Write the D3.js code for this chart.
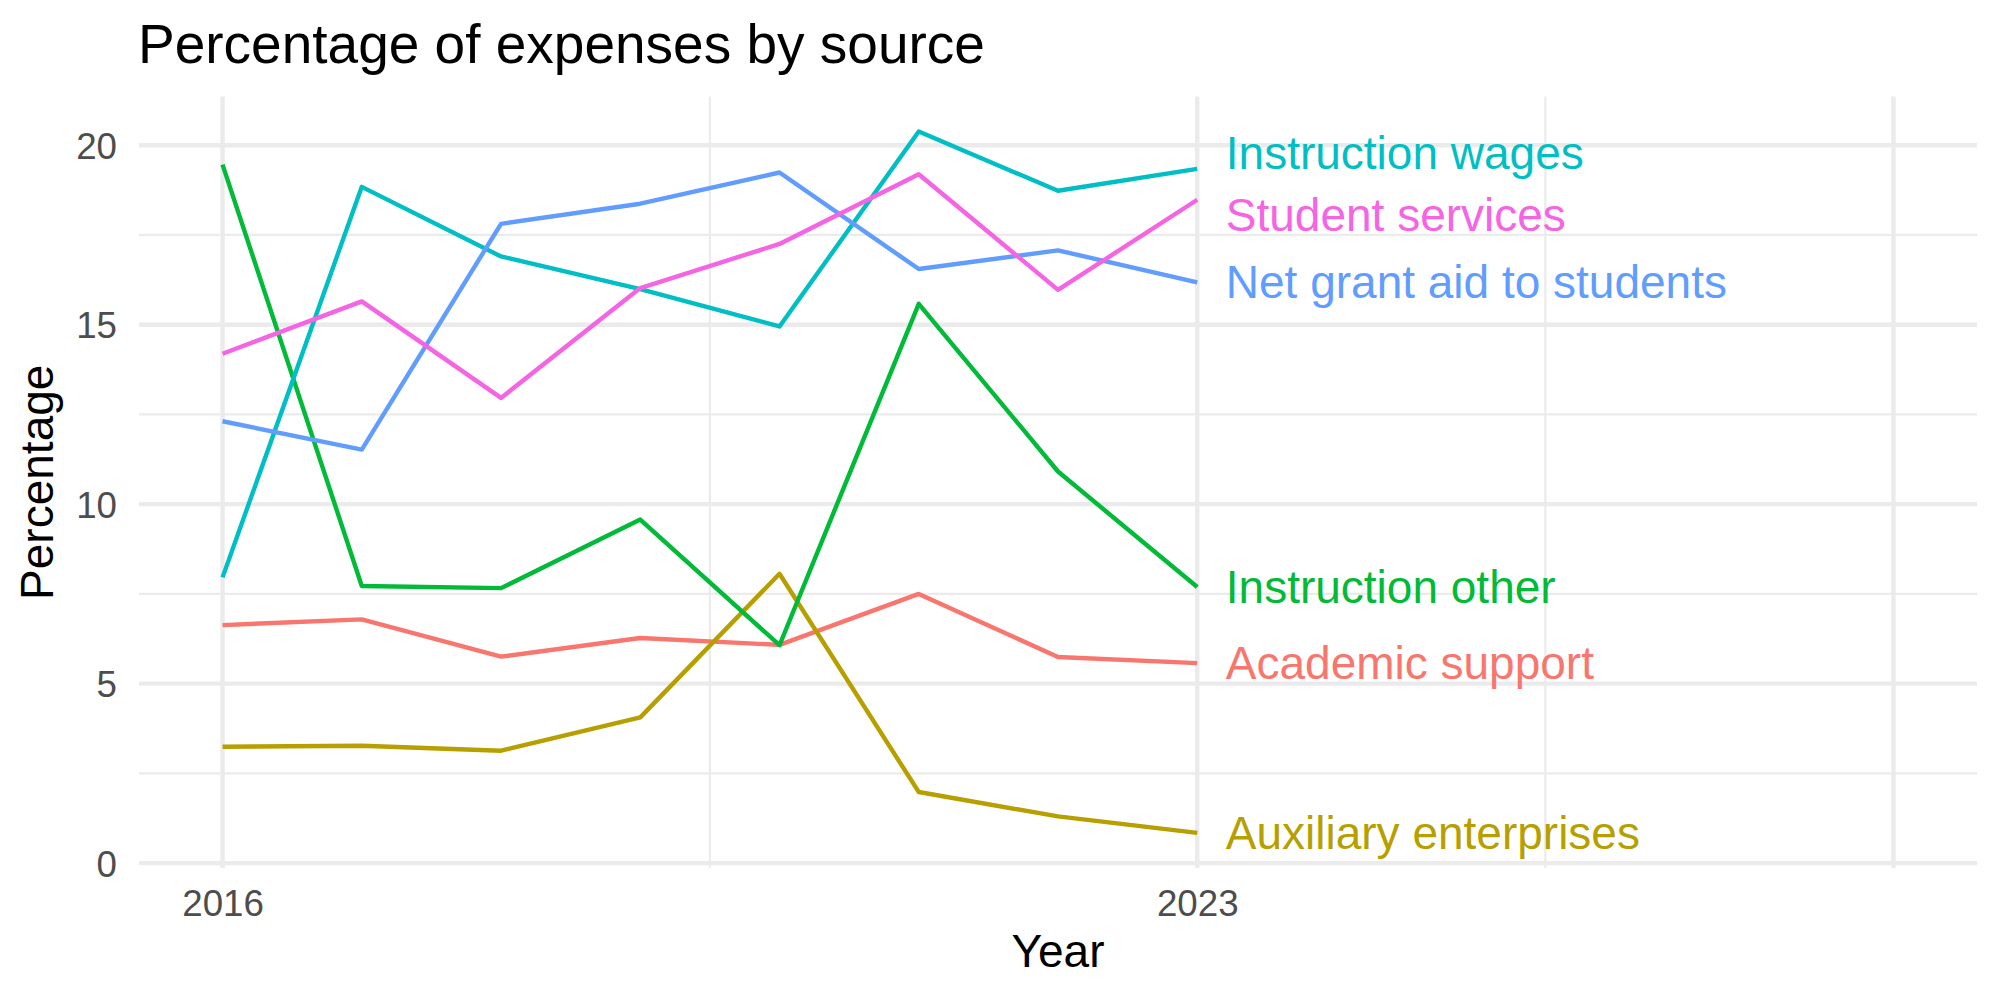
<!DOCTYPE html>
<html>
<head>
<meta charset="utf-8">
<script src="https://cdn.jsdelivr.net/npm/d3@7"></script>
<style>
  html, body { margin: 0; padding: 0; background: #fff; }
  svg text { font-family: "Liberation Sans", Arial, Helvetica, sans-serif; }
</style>
</head>
<body>
<svg id="chart" width="2000" height="1000"></svg>
<script>
// ---- Data ----
const years = [2016, 2017, 2018, 2019, 2020, 2021, 2022, 2023];
const seriesNames = ["Academic support", "Auxiliary enterprises", "Instruction other",
                     "Instruction wages", "Net grant aid to students", "Student services"];
const academicSupport      = [6.63, 6.79, 5.75, 6.27, 6.08, 7.50, 5.74, 5.57];
const auxiliaryEnterprises = [3.24, 3.27, 3.13, 4.06, 8.06, 1.98, 1.30, 0.84];
const instructionOther     = [19.46, 7.72, 7.66, 9.57, 6.07, 15.58, 10.91, 7.69];
const instructionWages     = [7.96, 18.84, 16.90, 15.99, 14.95, 20.38, 18.73, 19.34];
const netGrantAid          = [12.31, 11.52, 17.81, 18.37, 19.24, 16.55, 17.07, 16.18];
const studentServices      = [14.19, 15.65, 12.96, 16.02, 17.25, 19.19, 15.97, 18.48];
const seriesColors = ["#F8766D", "#B79F00", "#00BA38", "#00BFC4", "#619CFF", "#F564E3"];

const xBreaks = [2016, 2023, 2028];
const xTickLabels = ["2016", "2023", ""];
const xMinorBreaks = [2019.5, 2025.5];
const yBreaks = [0, 5, 10, 15, 20];
const yTickLabels = ["0", "5", "10", "15", "20"];
const yMinorBreaks = [2.5, 7.5, 12.5, 17.5];

const titleText = "Percentage of expenses by source";
const xTitle = "Year";
const yTitle = "Percentage";

// ---- Build table ----
const seriesValues = [academicSupport, auxiliaryEnterprises, instructionOther,
                      instructionWages, netGrantAid, studentServices];
const series = seriesNames.map((name, i) => ({
  name, color: seriesColors[i],
  values: years.map((y, j) => ({ year: y, value: seriesValues[i][j] }))
}));

// ---- Layout ----
const panel = { left: 139, right: 1977, top: 96.5, bottom: 868 };
const svg = d3.select("#chart");
svg.append("rect").attr("width", 2000).attr("height", 1000).attr("fill", "#fff");

const x = d3.scaleLinear().domain([2015.4, 2028.6]).range([panel.left, panel.right]);
const allVals = seriesValues.flat();
const [vmin, vmax] = d3.extent(allVals);
const pad = (vmax - vmin) * 0.05;
const y = d3.scaleLinear().domain([vmin - pad, vmax + pad]).range([panel.bottom, panel.top]);

const grid = svg.append("g");
// minor grid
grid.selectAll(".hmin").data(yMinorBreaks).join("line")
  .attr("x1", panel.left).attr("x2", panel.right)
  .attr("y1", d => y(d)).attr("y2", d => y(d))
  .attr("stroke", "#EBEBEB").attr("stroke-width", 2.2);
grid.selectAll(".vmin").data(xMinorBreaks).join("line")
  .attr("y1", panel.top).attr("y2", panel.bottom)
  .attr("x1", d => x(d)).attr("x2", d => x(d))
  .attr("stroke", "#EBEBEB").attr("stroke-width", 2.2);
// major grid
grid.selectAll(".hmaj").data(yBreaks).join("line")
  .attr("x1", panel.left).attr("x2", panel.right)
  .attr("y1", d => y(d)).attr("y2", d => y(d))
  .attr("stroke", "#EBEBEB").attr("stroke-width", 4.4);
grid.selectAll(".vmaj").data(xBreaks).join("line")
  .attr("y1", panel.top).attr("y2", panel.bottom)
  .attr("x1", d => x(d)).attr("x2", d => x(d))
  .attr("stroke", "#EBEBEB").attr("stroke-width", 4.4);

// axes (text only, ggplot minimal style)
const xAxis = d3.axisBottom(x).tickValues(xBreaks)
  .tickFormat((d, i) => xTickLabels[i]).tickSize(0).tickPadding(0);
const gx = svg.append("g").attr("transform", `translate(0,${panel.bottom})`).call(xAxis);
gx.select(".domain").remove();
gx.selectAll("text").attr("fill", "#4D4D4D").attr("font-size", 36.7)
  .attr("y", 48).attr("dy", null);

const yAxis = d3.axisLeft(y).tickValues(yBreaks)
  .tickFormat((d, i) => yTickLabels[i]).tickSize(0).tickPadding(0);
const gy = svg.append("g").attr("transform", `translate(${panel.left},0)`).call(yAxis);
gy.select(".domain").remove();
gy.selectAll("text").attr("fill", "#4D4D4D").attr("font-size", 36.7)
  .attr("x", -22).attr("dy", "0.36em");

// lines
const line = d3.line().x(d => x(d.year)).y(d => y(d.value));
svg.append("g").selectAll("path").data(series).join("path")
  .attr("d", d => line(d.values))
  .attr("fill", "none")
  .attr("stroke", d => d.color)
  .attr("stroke-width", 4.4)
  .attr("stroke-linejoin", "round")
  .attr("stroke-linecap", "butt");

// end labels with simple repel
const labelNudgeYears = 0.205;
const minGap = 62;
const labels = series.map(s => ({
  name: s.name, color: s.color,
  py: y(s.values[s.values.length - 1].value)
}));
for (let it = 0; it < 200; it++) {
  labels.sort((a, b) => a.py - b.py);
  for (let i = 0; i < labels.length - 1; i++) {
    const d = labels[i + 1].py - labels[i].py;
    if (d < minGap) {
      const shift = (minGap - d) / 2;
      labels[i].py -= shift;
      labels[i + 1].py += shift;
    }
  }
}
svg.append("g").selectAll("text").data(labels).join("text")
  .attr("x", x(years[years.length - 1] + labelNudgeYears))
  .attr("y", d => d.py)
  .attr("dy", "0.35em")
  .attr("fill", d => d.color)
  .attr("font-size", 46)
  .text(d => d.name);

// titles
svg.append("text").attr("x", 138).attr("y", 63)
  .attr("font-size", 55).attr("fill", "#000").text(titleText);
svg.append("text").attr("x", (panel.left + panel.right) / 2).attr("y", 967)
  .attr("text-anchor", "middle").attr("font-size", 46).attr("fill", "#000").text(xTitle);
svg.append("text")
  .attr("transform", `translate(53,${(panel.top + panel.bottom) / 2}) rotate(-90)`)
  .attr("text-anchor", "middle").attr("font-size", 46).attr("fill", "#000").text(yTitle);
</script>
</body>
</html>
